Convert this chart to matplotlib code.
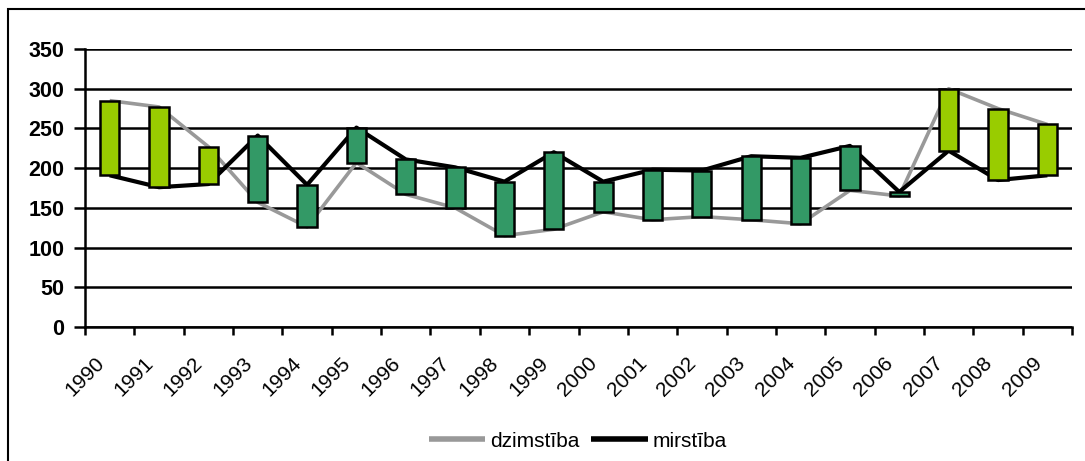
import matplotlib
matplotlib.use("Agg")
import matplotlib.pyplot as plt
import matplotlib.transforms as mtransforms
from matplotlib.patches import Rectangle
import numpy as np

plt.rcParams['font.family'] = ['Liberation Sans', 'DejaVu Sans']

years = ['1990', '1991', '1992', '1993', '1994', '1995', '1996', '1997', '1998', '1999',
         '2000', '2001', '2002', '2003', '2004', '2005', '2006', '2007', '2008', '2009']
dzimstiba = [285, 277, 227, 157, 126, 207, 167, 150, 115, 123,
             145, 135, 139, 135, 130, 172, 165, 300, 275, 255]
mirstiba = [191, 176, 180, 241, 179, 251, 211, 201, 183, 220,
            183, 198, 197, 215, 213, 228, 170, 222, 185, 191]
y_ticks = [0, 50, 100, 150, 200, 250, 300, 350]

W, H = 1085, 461
fig = plt.figure(figsize=(W / 100, H / 100), dpi=100)
ax = fig.add_axes([85 / W, 1 - 327 / H, (1072 - 85) / W, (327 - 49) / H])

x = np.arange(len(years))
ax.plot(x, dzimstiba, color='#999999', lw=2.6, zorder=2, label='dzimstība', solid_capstyle='butt')
ax.plot(x, mirstiba, color='#000000', lw=3.0, zorder=2, label='mirstība', solid_capstyle='butt')

d = np.array(dzimstiba)
m = np.array(mirstiba)
bottoms = np.minimum(d, m)
heights = np.abs(d - m)
colors = ['#99CC00' if dv > mv else '#339966' for dv, mv in zip(d, m)]
ax.bar(x, heights, bottom=bottoms, width=0.39, color=colors, edgecolor='black',
       linewidth=1.8, zorder=3)

ax.set_xlim(-0.5, len(years) - 0.5)
ax.set_ylim(0, 350)
ax.set_yticks(y_ticks)
ax.set_yticklabels([str(v) for v in y_ticks], fontsize=15.5, fontweight='bold')
ax.yaxis.grid(True, color='black', lw=1.8, zorder=1)
ax.set_axisbelow(True)

ax.set_xticks(x)
ax.set_xticks(np.arange(-0.5, len(years), 1.0), minor=True)
ax.set_xticklabels(years, fontsize=15, rotation=45, ha='right', va='top')
ax.tick_params(axis='x', which='major', length=0, pad=19)
ax.tick_params(axis='x', which='minor', length=6, width=1.8, direction='out', color='black')
ax.tick_params(axis='y', length=8, width=1.8, pad=7, color='black')
offset = mtransforms.ScaledTranslation(-2 / 100, 0, fig.dpi_scale_trans)
for lab in ax.get_xticklabels():
    lab.set_transform(lab.get_transform() + offset)

for s in ['top', 'right']:
    ax.spines[s].set_visible(False)
for s in ['left', 'bottom']:
    ax.spines[s].set_linewidth(1.8)
    ax.spines[s].set_color('black')

leg = fig.legend(loc='center', bbox_to_anchor=(578 / W, 1 - 441 / H), ncol=2, frameon=False,
                 fontsize=15, handlelength=2.7, handletextpad=0.25, columnspacing=0.55)
for lh in leg.get_lines():
    lh.set_linewidth(4)

fig.patches.append(Rectangle((8 / W, -0.1), 1.2, 1 - 9 / H + 0.1, transform=fig.transFigure,
                             fill=False, edgecolor='black', lw=1.5))

fig.savefig('out.png', dpi=100)
